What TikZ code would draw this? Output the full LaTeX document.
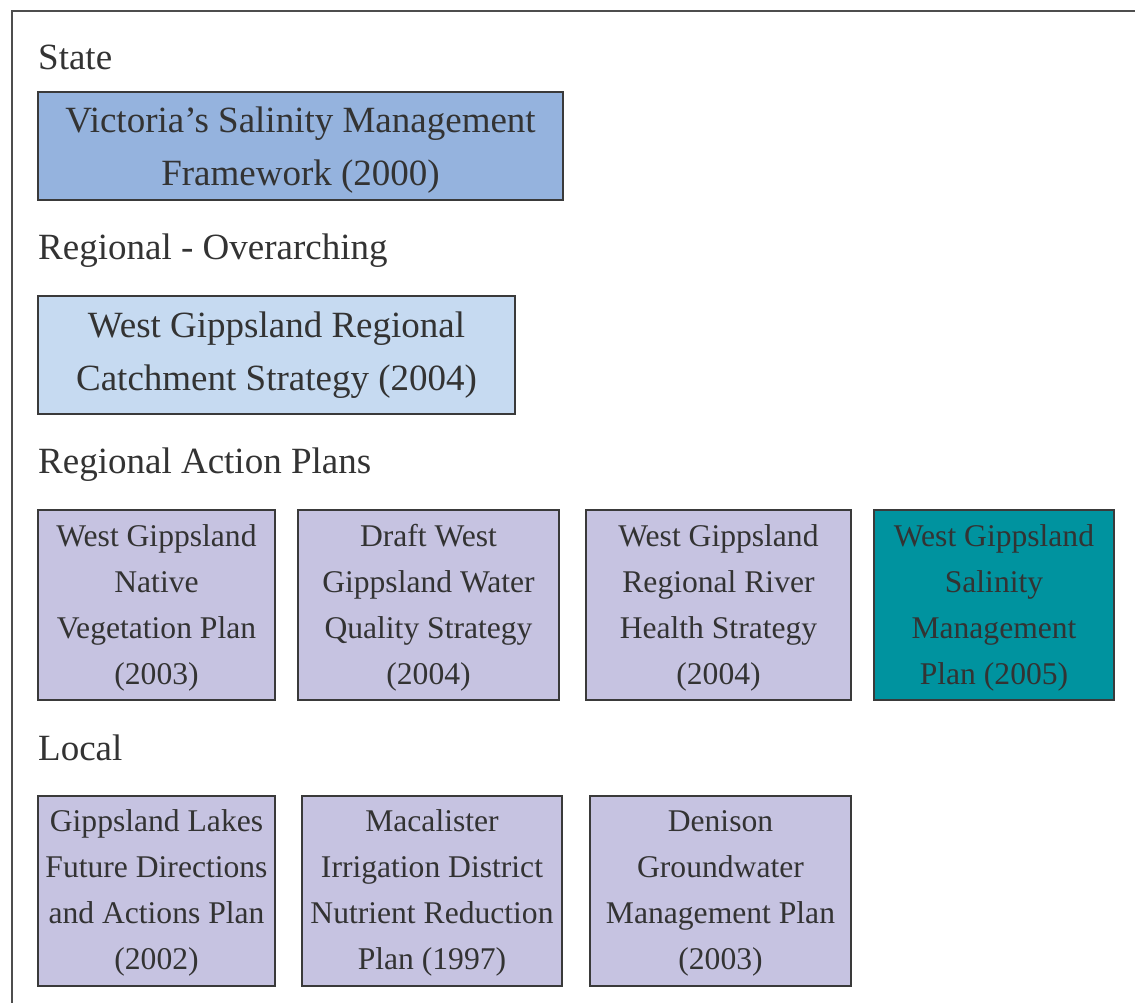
\documentclass[tikz,border=0pt]{standalone}
\usepackage{fontspec}
\setmainfont{Liberation Serif}
\definecolor{txt}{HTML}{333333}
\definecolor{edge}{HTML}{3A3A3A}
\definecolor{stateblue}{HTML}{95B3DE}
\definecolor{regblue}{HTML}{C6DAF1}
\definecolor{lav}{HTML}{C6C3E1}
\definecolor{teal}{HTML}{00939F}
\begin{document}
\begin{tikzpicture}[x=1pt,y=-1pt,
  lbl/.style={anchor=west,inner sep=0pt,text=txt,font=\fontsize{37}{53}\selectfont},
  boxshape/.style={draw=edge,line width=1.8pt,inner sep=0pt},
  bigtext/.style={inner sep=0pt,align=center,text=txt,font=\fontsize{37}{53}\selectfont},
  smalltext/.style={inner sep=0pt,align=center,text=txt,font=\fontsize{31.6}{46}\selectfont},
  smallbox/.style={boxshape,minimum height=190pt,fill=lav}]
\useasboundingbox (0,0) rectangle (1135,1003);
\fill[white] (0,0) rectangle (1135,1003);
\draw[edge!90,line width=1.8pt] (12,1020) -- (12,11) -- (1150,11);

\node[lbl] (lstate) at (38,57) {State};
\node[boxshape,fill=stateblue,minimum width=525pt,minimum height=108pt] (vic) at (300.5,146) {};
\node[bigtext,yshift=-4pt] (vict) at (vic) {Victoria’s Salinity Management\\Framework (2000)};

\node[lbl] (lreg) at (38,251) {Regional - Overarching};
\node[boxshape,fill=regblue,minimum width=477pt,minimum height=118pt] (wgrcs) at (276.5,355) {};
\node[bigtext,yshift=0pt] (wgrcst) at (wgrcs) {West Gippsland Regional\\Catchment Strategy (2004)};

\node[lbl] (lrap) at (38,465) {Regional Action Plans};
\node[smallbox,minimum width=237pt] (nv) at (156.5,605) {};
\node[smalltext,yshift=-3pt] (nvt) at (nv) {West Gippsland\\Native\\Vegetation Plan\\(2003)};
\node[smallbox,minimum width=261pt] (wq) at (428.5,605) {};
\node[smalltext,yshift=-3pt] (wqt) at (wq) {Draft West\\Gippsland Water\\Quality Strategy\\(2004)};
\node[smallbox,minimum width=265pt] (rh) at (718.5,605) {};
\node[smalltext,yshift=-3pt] (rht) at (rh) {West Gippsland\\Regional River\\Health Strategy\\(2004)};
\node[smallbox,fill=teal,minimum width=240pt] (sm) at (994,605) {};
\node[smalltext,yshift=-3pt] (smt) at (sm) {West Gippsland\\Salinity\\Management\\Plan (2005)};

\node[lbl] (llocal) at (38,748) {Local};
\node[smallbox,minimum width=237pt] (gl) at (156.5,891) {};
\node[smalltext,yshift=-2pt] (glt) at (gl) {Gippsland Lakes\\Future Directions\\and Actions Plan\\(2002)};
\node[smallbox,minimum width=260pt] (mac) at (432,891) {};
\node[smalltext,yshift=-2pt] (mact) at (mac) {Macalister\\Irrigation District\\Nutrient Reduction\\Plan (1997)};
\node[smallbox,minimum width=261pt] (den) at (720.5,891) {};
\node[smalltext,yshift=-2pt] (dent) at (den) {Denison\\Groundwater\\Management Plan\\(2003)};
\end{tikzpicture}
\end{document}
